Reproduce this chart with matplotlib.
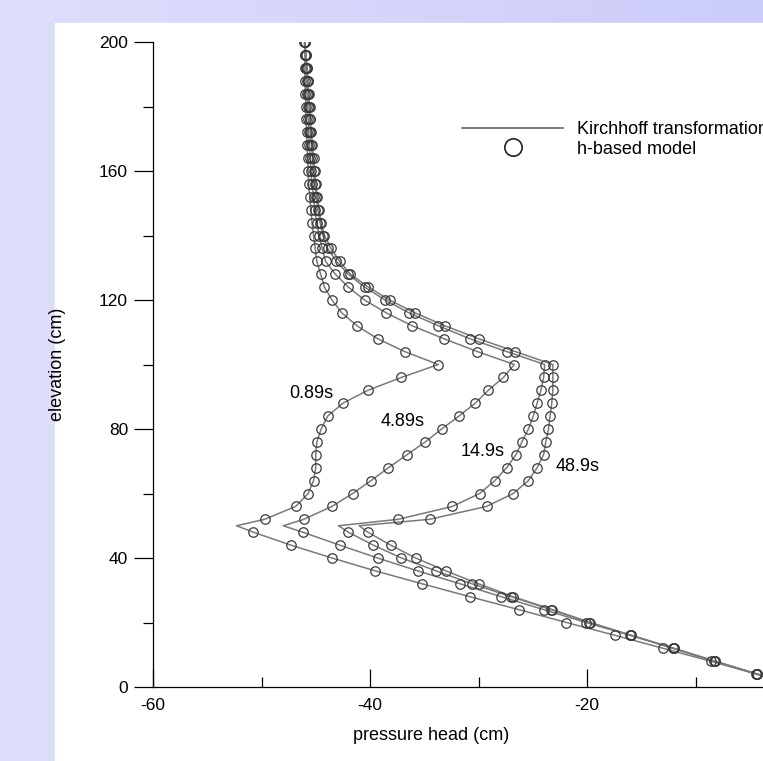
import numpy as np
import matplotlib.pyplot as plt
from matplotlib.lines import Line2D
from matplotlib.patches import Rectangle

plt.rcParams['font.family'] = ['Liberation Sans', 'DejaVu Sans']
plt.rcParams['axes.unicode_minus'] = False

# elevation of the nodes (cm), markers every 4 cm
elev = np.arange(0, 204, 4)

# pressure head (cm) per time
h_089 = [0.0, -4.4, -8.6, -13.0, -17.4, -21.9, -26.3, -30.8, -35.2, -39.5,
         -43.5, -47.3, -50.75, -49.7, -46.85, -45.7, -45.2, -45.0, -45.0, -44.9,
         -44.5, -43.9, -42.5, -40.2, -37.1, -33.7, -36.8, -39.3, -41.2, -42.6,
         -43.5, -44.2, -44.55, -44.9, -45.05, -45.2, -45.35, -45.45, -45.55, -45.65,
         -45.7, -45.75, -45.8, -45.85, -45.9, -45.9, -45.95, -46.0, -46.0, -46.0,
         -46.05]
h_489 = [0.0, -4.3, -8.3, -12.1, -16.0, -20.1, -24.0, -27.9, -31.7, -35.6,
         -39.3, -42.8, -46.2, -46.1, -43.5, -41.6, -39.9, -38.3, -36.6, -34.9,
         -33.4, -31.8, -30.3, -29.1, -27.7, -26.7, -30.1, -33.2, -36.1, -38.5,
         -40.5, -42.0, -43.2, -44.1, -44.4, -44.7, -44.9, -45.1, -45.2, -45.35,
         -45.45, -45.5, -45.6, -45.65, -45.7, -45.75, -45.8, -45.85, -45.9, -45.95,
         -46.0]
h_149 = [0.0, -4.3, -8.2, -12.0, -15.9, -19.8, -23.3, -27.0, -30.6, -33.9,
         -37.1, -39.7, -42.0, -37.4, -32.4, -29.9, -28.5, -27.4, -26.55, -26.0,
         -25.4, -24.95, -24.6, -24.25, -24.0, -23.9, -27.4, -30.8, -33.7, -36.4,
         -38.6, -40.5, -42.0, -43.1, -43.9, -44.35, -44.6, -44.8, -44.95, -45.1,
         -45.2, -45.3, -45.4, -45.5, -45.55, -45.6, -45.7, -45.75, -45.8, -45.9,
         -46.0]
h_489s = [0.0, -4.3, -8.2, -12.0, -15.9, -19.7, -23.2, -26.8, -30.0, -33.0,
          -35.8, -38.1, -40.2, -34.5, -29.25, -26.8, -25.4, -24.6, -24.0, -23.8,
          -23.55, -23.4, -23.25, -23.15, -23.15, -23.15, -26.6, -30.0, -33.1, -35.85,
          -38.2, -40.15, -41.8, -42.8, -43.6, -44.2, -44.5, -44.7, -44.85, -45.0,
          -45.1, -45.2, -45.3, -45.4, -45.5, -45.55, -45.65, -45.7, -45.8, -45.9,
          -46.0]
# extra line node at the layer interface (50 cm), no marker there
tip_elev = 50
tips = [-52.3, -48.0, -42.9, -41.0]

profiles = [h_089, h_489, h_149, h_489s]
times = ['0.89s', '4.89s', '14.9s', '48.9s']
time_xy = [(-45.4, 90.9), (-37.0, 82.3), (-29.6, 73.0), (-20.9, 68.3)]

W, H = 763, 761
fig = plt.figure(figsize=(W / 100, H / 100), dpi=100)

# lavender backdrop with white panel
bg = fig.add_axes([0, 0, 1, 1], zorder=-1)
grad = np.linspace(0, 1, 256)[None, :, None]
c0 = np.array([222, 222, 252]) / 255
c1 = np.array([204, 204, 250]) / 255
bg.imshow(c0 + (c1 - c0) * grad, aspect='auto', extent=[0, 1, 0, 1])
bg.add_patch(Rectangle((55 / W, 0), 1, 1 - 23 / H, color='white'))
bg.set_xlim(0, 1)
bg.set_ylim(0, 1)
bg.axis('off')

ax = fig.add_axes([153 / W, 1 - 687 / H, (804 - 153) / W, (687 - 42) / H])
ax.patch.set_alpha(0)

k = list(elev).index(52)
for h, tip in zip(profiles, tips):
    ye = np.insert(elev.astype(float), k, tip_elev)
    xe = np.insert(np.array(h), k, tip)
    ax.plot(xe, ye, color='#7a7a7a', lw=1.1, zorder=2)
    ax.plot(h, elev, ls='none', marker='o', ms=6.8, mfc='none',
            mec='#3a3a3a', mew=0.9, zorder=3)

for t, (x, y) in zip(times, time_xy):
    ax.text(x, y, t, fontsize=13, ha='center', va='center')

ax.set_xlim(-60, 0)
ax.set_ylim(0, 200)
ax.set_xticks([-60, -40, -20])
ax.set_xticks([-50, -30, -10], minor=True)
ax.set_yticks([0, 40, 80, 120, 160, 200])
ax.set_yticks([20, 60, 100, 140, 180], minor=True)
for s in ['top', 'right']:
    ax.spines[s].set_visible(False)
for s in ['left', 'bottom']:
    ax.spines[s].set_linewidth(0.9)
ax.tick_params(axis='y', which='major', direction='out', length=14, width=0.9, labelsize=12.5, pad=4)
ax.tick_params(axis='y', which='minor', direction='out', length=7, width=0.9)
ax.tick_params(axis='x', which='major', direction='in', length=13, width=0.9, labelsize=12.5, pad=8)
ax.tick_params(axis='x', which='minor', direction='in', length=7, width=0.9)
ax.set_xlabel('pressure head (cm)', fontsize=13)
ax.set_ylabel('elevation (cm)', fontsize=13)
ax.xaxis.set_label_coords((431 - 153) / (804 - 153), -0.062)
ax.yaxis.set_label_coords(-0.134, 0.5)

handles = [Line2D([], [], color='#555555', lw=1.1),
           Line2D([], [], ls='none', marker='o', ms=12.5, mfc='none', mec='#222222', mew=1.2)]
fig.legend(handles, ['Kirchhoff transformation', 'h-based model'],
           loc='upper left', bbox_to_anchor=(462 / W, 1 - 121 / H),
           frameon=False, fontsize=13, handlelength=5.6, handletextpad=0.78,
           labelspacing=0.15, borderpad=0, borderaxespad=0)

fig.savefig('out.png', dpi=100)
